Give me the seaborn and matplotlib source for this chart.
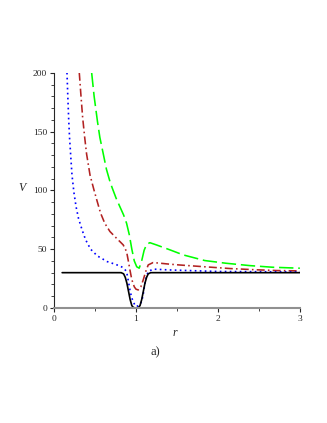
import matplotlib
matplotlib.use('Agg')
import matplotlib.pyplot as plt
from matplotlib.ticker import MultipleLocator
import seaborn as sns

# Values
r_black = [0.10, 0.82, 0.85, 0.87, 0.89, 0.91, 0.93, 0.95, 0.97, 1.00, 1.03, 1.05,
           1.07, 1.09, 1.11, 1.13, 1.15, 1.18, 3.00]
v_black = [30, 30, 29, 26, 21, 14, 7, 2, 0.3, 0, 0.3, 2, 7, 14, 21, 26, 29, 30, 30]

r_blue = [0.159, 0.17, 0.18, 0.19, 0.203, 0.22, 0.244, 0.27, 0.30, 0.345, 0.386,
          0.447, 0.528, 0.65, 0.711, 0.805, 0.85, 0.886, 0.91, 0.927, 0.947, 0.967,
          0.99, 1.008, 1.04, 1.07, 1.09, 1.11, 1.13, 1.15, 1.21, 1.415, 2.0, 3.0]
v_blue = [200, 178, 160, 145, 131, 113, 98, 86, 76, 66, 58, 50, 44.3, 39.4, 38,
          35.7, 34, 30.9, 22, 15.3, 9, 5.4, 2, 1.1, 2.5, 5.4, 12, 21, 27, 31, 33,
          32.3, 31, 30.6]

r_red = [0.309, 0.33, 0.35, 0.375, 0.398, 0.44, 0.488, 0.53, 0.569, 0.62, 0.683,
         0.711, 0.76, 0.805, 0.845, 0.886, 0.91, 0.927, 0.95, 0.98, 1.0, 1.028,
         1.06, 1.089, 1.12, 1.15, 1.21, 1.30, 1.415, 1.54, 1.84, 2.15, 2.45, 2.72, 3.0]
v_red = [200, 180, 162, 145, 131, 113, 100.4, 90, 80.6, 72, 65, 63, 59.5, 56.4,
         53.6, 47.9, 39, 32.3, 24, 18, 16, 15.3, 18, 23.8, 31, 36.6, 38.6, 38,
         37.2, 36.5, 35, 33.5, 32.5, 31.8, 31.5]

r_green = [0.46, 0.49, 0.53, 0.56, 0.60, 0.64, 0.683, 0.711, 0.76, 0.805, 0.85,
           0.886, 0.92, 0.95, 0.98, 1.01, 1.04, 1.07, 1.10, 1.13, 1.17, 1.25,
           1.415, 1.577, 1.84, 2.1, 2.39, 2.67, 3.0]
v_green = [200, 180, 159, 145, 131.6, 118, 107.5, 102, 93, 86, 79, 72, 62, 50,
           40, 35, 33.8, 40, 49, 54, 55.5, 53.6, 49.4, 45.1, 40.3, 38, 36, 34.6, 33.8]

sns.set_style('ticks')
plt.rcParams['font.family'] = ['Liberation Serif', 'DejaVu Serif']

fig = plt.figure(figsize=(3.27, 4.23), dpi=100)
ax = fig.add_axes([0.165, 0.272, 0.752, 0.556])

sns.lineplot(x=r_green, y=v_green, color='#00ff00', lw=1.15,
             linestyle=(0, (9, 3)), ax=ax)
sns.lineplot(x=r_red, y=v_red, color='#b22222', lw=1.15,
             linestyle=(0, (5, 2, 1, 2)), ax=ax)
sns.lineplot(x=r_blue, y=v_blue, color='#0000ff', lw=1.2,
             linestyle=(0, (1, 2)), ax=ax)
sns.lineplot(x=r_black, y=v_black, color='black', lw=1.2, ax=ax)

ax.set_xlim(0, 3)
ax.set_ylim(0, 200)
ax.xaxis.set_major_locator(MultipleLocator(1))
ax.xaxis.set_minor_locator(MultipleLocator(0.5))
ax.yaxis.set_major_locator(MultipleLocator(50))
ax.yaxis.set_minor_locator(MultipleLocator(10))
ax.tick_params(which='major', length=3, width=0.8, labelsize=6.8, pad=2)
ax.tick_params(which='minor', length=2, width=0.6)

ax.spines['top'].set_visible(False)
ax.spines['right'].set_visible(False)
ax.spines['left'].set_linewidth(0.8)
ax.spines['bottom'].set_color('#909090')
ax.spines['bottom'].set_linewidth(1.5)

ax.set_xlabel('')
ax.set_ylabel('')
fig.text(0.068, 0.555, 'V', style='italic', fontsize=8.5, ha='center', va='center')
fig.text(0.535, 0.213, 'r', style='italic', fontsize=8.5, ha='center', va='center')
fig.text(0.475, 0.168, 'a)', fontsize=9, ha='center', va='center')

fig.savefig('out.png', dpi=100)
